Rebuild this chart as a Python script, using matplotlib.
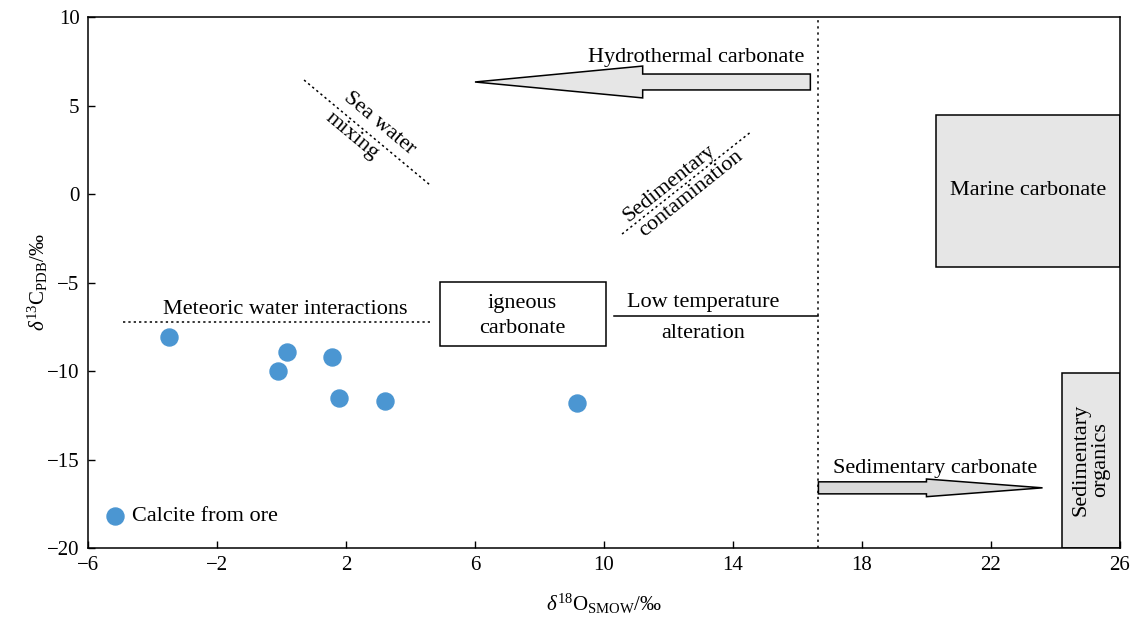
import numpy as np
import matplotlib
matplotlib.use("Agg")
import matplotlib.pyplot as plt
from matplotlib.patches import Rectangle, FancyArrow

plt.rcParams['font.family'] = ['Liberation Serif', 'DejaVu Serif']
plt.rcParams['mathtext.fontset'] = 'custom'
plt.rcParams['mathtext.rm'] = 'Liberation Serif'
plt.rcParams['mathtext.it'] = 'Liberation Serif:italic'

# calcite from ore: d18O (SMOW), d13C (PDB)
d18O = [-3.5, 0.17, -0.1, 1.57, 1.78, 3.2, 9.16]
d13C = [-8.1, -8.9, -10.0, -9.2, -11.5, -11.7, -11.8]

xticks = [-6, -2, 2, 6, 10, 14, 18, 22, 26]
yticks = [-20, -15, -10, -5, 0, 5, 10]

# field boundaries
boundary_x = 16.65
marine_box = (20.3, -4.1, 5.7, 8.55)       # x, y, w, h
organics_box = (24.2, -20, 1.8, 9.9)
igneous_box = (4.9, -8.6, 5.15, 3.63)
meteoric_line = ([-4.9, 4.6], [-7.23, -7.23])
lowtemp_line = ([10.3, 16.65], [-6.9, -6.9])
seawater_line = ([0.7, 4.6], [6.44, 0.52])
sedcont_line = ([10.56, 14.55], [-2.26, 3.5])

fs = 16
tfs = 15
fig = plt.figure(figsize=(11.37, 6.17), dpi=100)
ax = fig.add_axes([0.0774, 0.1118, 0.9076, 0.8606])

dots = (0, (1.5, 2))
ax.axvline(boundary_x, color='black', ls=(0, (1.5, 2.5)), lw=1.1)
ax.add_patch(Rectangle(marine_box[:2], marine_box[2], marine_box[3],
                       fc='#e6e6e6', ec='black', lw=1.1))
ax.add_patch(Rectangle(organics_box[:2], organics_box[2], organics_box[3],
                       fc='#e6e6e6', ec='black', lw=1.1))
ax.add_patch(Rectangle(igneous_box[:2], igneous_box[2], igneous_box[3],
                       fc='white', ec='black', lw=1.1))

ax.plot(*meteoric_line, color='black', ls=dots, lw=1.1)
ax.plot(*lowtemp_line, color='black', lw=1.1)
ax.plot(*seawater_line, color='black', ls=dots, lw=1.1)
ax.plot(*sedcont_line, color='black', ls=dots, lw=1.1)

ax.add_patch(FancyArrow(16.4, 6.33, -10.4, 0, width=0.9, head_width=1.8,
                        head_length=5.2, length_includes_head=True,
                        fc='#e6e6e6', ec='black', lw=1.1))
ax.add_patch(FancyArrow(16.65, -16.6, 6.95, 0, width=0.68, head_width=1.0,
                        head_length=3.6, length_includes_head=True,
                        fc='#d9d9d9', ec='black', lw=1.1))

ax.scatter(d18O, d13C, s=150, color='#4b96d2', zorder=5, label='Calcite from ore')

ax.text(12.85, 7.7, 'Hydrothermal carbonate', ha='center', va='center', fontsize=fs)
ax.text(23.15, 0.2, 'Marine carbonate', ha='center', va='center', fontsize=fs)
ax.text(25.1, -15.0, 'Sedimentary\norganics', ha='center', va='center', fontsize=fs,
        rotation=90, linespacing=1.0)
ax.text(20.26, -15.5, 'Sedimentary carbonate', ha='center', va='center', fontsize=fs)
ax.text(7.46, -6.9, 'igneous\ncarbonate', ha='center', va='center', fontsize=fs,
        linespacing=1.45)
ax.text(13.07, -6.15, 'Low temperature', ha='center', va='center', fontsize=fs)
ax.text(13.07, -7.9, 'alteration', ha='center', va='center', fontsize=fs)
ax.text(0.11, -6.55, 'Meteoric water interactions', ha='center', va='center', fontsize=fs)


def line_label(line, txt, along, perp, angle):
    # along / perp offsets in pixels from the line midpoint
    xm = np.mean(line[0])
    ym = np.mean(line[1])
    a = np.radians(angle)
    dx = along * np.cos(a) - perp * np.sin(a)
    dy = along * np.sin(a) + perp * np.cos(a)
    ax.annotate(txt, (xm, ym), xytext=(dx * 0.72, dy * 0.72),
                textcoords='offset points', ha='center', va='center',
                fontsize=fs, rotation=angle, rotation_mode='anchor')


line_label(seawater_line, 'Sea water', 4, 15, -39.8)
line_label(seawater_line, 'mixing', -9, -12, -39.8)
line_label(sedcont_line, 'Sedimentary', -14, 10, 38.6)
line_label(sedcont_line, 'contamination', -3, -11, 38.6)

ax.set_xlim(-6, 26)
ax.set_ylim(-20, 10)
ax.set_xticks(xticks)
ax.set_yticks(yticks)
ax.tick_params(direction='in', labelsize=tfs, length=5, width=1, pad=6)
for s in ax.spines.values():
    s.set_linewidth(1.1)

ax.set_xlabel(r'$\delta^{18}$O$_{\mathrm{SMOW}}$/‰', fontsize=15)
ax.set_ylabel(r'$\delta^{13}$C$_{\mathrm{PDB}}$/‰', fontsize=15)
ax.xaxis.set_label_coords(0.5, -0.083)
ax.yaxis.set_label_coords(-0.037, 0.5)

ax.legend(loc='center left', frameon=False, fontsize=fs, handlelength=1.0,
          handletextpad=0.25, borderpad=0, borderaxespad=0,
          bbox_to_anchor=(0.0155, 0.06))

fig.savefig('out.png', dpi=100)
